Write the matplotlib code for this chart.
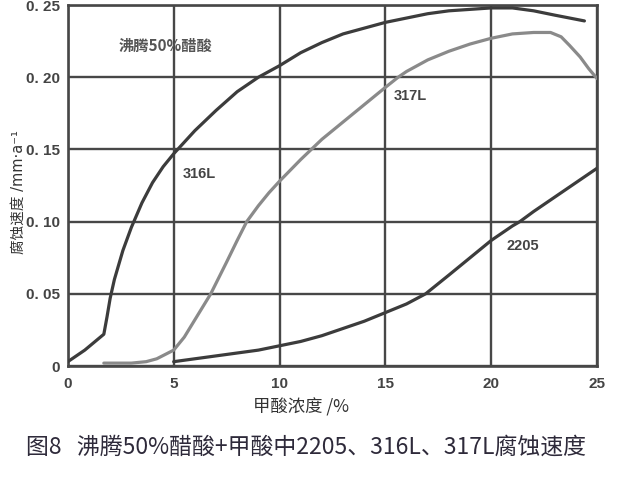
import matplotlib
matplotlib.use('Agg')
import matplotlib.pyplot as plt

# corrosion rate curves
x_316l = [0, 0.8, 1.7, 1.85, 2.0, 2.2, 2.6, 3.0, 3.5, 4.0, 4.5, 5.0, 5.5, 6, 7, 8, 9, 10, 11, 12, 13, 14, 15, 16, 17, 18, 19, 20, 21, 22, 23, 24.4]
y_316l = [0.003, 0.011, 0.022, 0.034, 0.047, 0.06, 0.08, 0.096, 0.113, 0.127, 0.138, 0.147, 0.155, 0.163, 0.177, 0.19, 0.2, 0.208, 0.217, 0.224, 0.23, 0.234, 0.238, 0.241, 0.244, 0.246, 0.247, 0.248, 0.248, 0.246, 0.243, 0.239]

x_317l = [1.7, 2.5, 3.0, 3.7, 4.2, 4.6, 5.0, 5.5, 6.0, 6.75, 7.5, 8.0, 8.45, 9.0, 9.5, 10, 11, 11.5, 12, 13, 14, 15, 15.6, 16, 17, 18, 19, 20, 21, 22, 22.8, 23.3, 23.7, 24.2, 24.6, 25]
y_317l = [0.002, 0.002, 0.002, 0.003, 0.005, 0.008, 0.011, 0.02, 0.032, 0.05, 0.072, 0.087, 0.10, 0.111, 0.12, 0.128, 0.143, 0.15, 0.157, 0.169, 0.181, 0.193, 0.2, 0.204, 0.212, 0.218, 0.223, 0.227, 0.23, 0.231, 0.231, 0.228, 0.222, 0.214, 0.206, 0.199]

x_2205 = [5, 6, 7, 8, 9, 10, 11, 12, 13, 14, 15, 16, 16.9, 18, 19, 20, 21, 21.35, 22, 23, 24, 25]
y_2205 = [0.003, 0.005, 0.007, 0.009, 0.011, 0.014, 0.017, 0.021, 0.026, 0.031, 0.037, 0.043, 0.05, 0.063, 0.075, 0.087, 0.097, 0.10, 0.107, 0.117, 0.127, 0.137]

xticks = [0, 5, 10, 15, 20, 25]
yticks = [0, 0.05, 0.10, 0.15, 0.20, 0.25]
ytick_labels = ["0", "0. 05", "0. 10", "0. 15", "0. 20", "0. 25"]

# curve labels: text, x, y
curve_labels = [("316L", 6.2, 0.133), ("317L", 16.2, 0.187), ("2205", 21.5, 0.083)]

plt.rcParams['font.family'] = ['Noto Sans CJK SC', 'DejaVu Sans']

fig = plt.figure(figsize=(6.4, 4.8), dpi=100)
ax = fig.add_axes([0.106, 0.2375, 0.827, 0.752])

dark = '#3c3c3c'
grey = '#8a8a8a'
gridc = '#474747'

ax.set_xlim(0, 25)
ax.set_ylim(0, 0.25)
ax.set_xticks(xticks)
ax.set_yticks(yticks)
ax.set_yticklabels(ytick_labels)
ax.grid(True, color=gridc, linewidth=1.7)
ax.set_axisbelow(True)
for s in ax.spines.values():
    s.set_color(gridc)
    s.set_linewidth(1.9)
ax.tick_params(length=0, labelcolor='#444444')
ax.tick_params(axis='x', pad=8)
ax.tick_params(axis='y', pad=6)
for lab in ax.get_xticklabels() + ax.get_yticklabels():
    lab.set_family('Liberation Sans')
    lab.set_fontweight('bold')
    lab.set_fontsize(11)

ax.plot(x_316l, y_316l, color=dark, linewidth=2.3, solid_capstyle='round', zorder=3)
ax.plot(x_317l, y_317l, color=grey, linewidth=2.3, solid_capstyle='round', zorder=3)
ax.plot(x_2205, y_2205, color=dark, linewidth=2.3, solid_capstyle='round', zorder=3)

for t, tx, ty in curve_labels:
    ax.text(tx, ty, t, fontsize=10.5, color='#444444', ha='center', va='center',
            family='Liberation Sans', fontweight='bold')

ax.text(4.6, 0.222, "沸腾50%醋酸", fontsize=11, color='#555555', ha='center', va='center',
        fontweight='bold')

ax.set_xlabel("甲酸浓度 /%", fontsize=12.5, color='#333333')
ax.xaxis.set_label_coords(0.44, -0.09)

# y label as figure text so it sits in the left margin like the original
fig.text(0.028, 0.60, "腐蚀速度 /mm·a⁻¹", rotation=90, fontsize=10.5, color='#333333',
         ha='center', va='center', family=['DejaVu Sans', 'Noto Sans CJK SC'])

fig.text(0.04, 0.068, "图8   沸腾50%醋酸+甲酸中2205、316L、317L腐蚀速度", fontsize=16.5,
         color='#2e2a3a', ha='left', va='center')

fig.savefig('out.png', dpi=100)
